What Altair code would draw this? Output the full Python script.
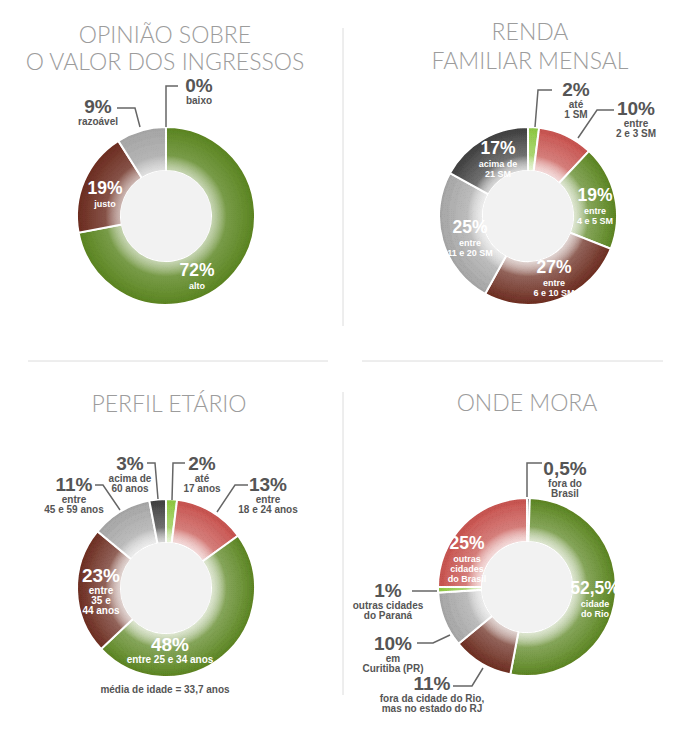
import altair as alt
import pandas as pd
import math

# ---------------- data ----------------
opiniao_cat = ["baixo", "alto", "justo", "razoável"]
opiniao_val = [0, 72, 19, 9]

renda_cat = ["até\n1 SM", "entre\n2 e 3 SM", "entre\n4 e 5 SM", "entre\n6 e 10 SM",
             "entre\n11 e 20 SM", "acima de\n21 SM"]
renda_val = [2, 10, 19, 27, 25, 17]

idade_cat = ["até\n17 anos", "entre\n18 e 24 anos", "entre 25 e 34 anos",
             "entre\n35 e\n44 anos", "entre\n45 e 59 anos", "acima de\n60 anos"]
idade_val = [2, 13, 48, 23, 11, 3]
idade_nota = "média de idade = 33,7 anos"

mora_cat = ["fora do\nBrasil", "cidade\ndo Rio", "fora da cidade do Rio,\nmas no estado do RJ",
            "em\nCuritiba (PR)", "outras cidades\ndo Paraná", "outras\ncidades\ndo Brasil"]
mora_val = [0.5, 52.5, 11, 10, 1, 25]

titulos = [["OPINIÃO SOBRE", "O VALOR DOS INGRESSOS"], ["RENDA", "FAMILIAR MENSAL"],
           ["PERFIL ETÁRIO"], ["ONDE MORA"]]

# ---------------- styles ----------------
GREEN, BROWN, GRAY = "#59841e", "#6a2a1d", "#a4a4a4"
DARK, LIME, RED = "#3c3c3c", "#8cc63f", "#c64f4b"
HOLE = "#f2f2f2"
TXT = "#555555"
TITLE_C = "#9c9c9c"
SANS = "Liberation Sans, Arial, sans-serif"

OFF = 8  # page margin
R_OUT, R_IN = 89, 45

charts = [
    dict(cat=opiniao_cat, val=opiniao_val, colors=[DARK, GREEN, BROWN, GRAY],
         center=(166, 216), title=titulos[0], title_y=[36, 63], title_x=165,
         pos=[(33, -130), (31, 55), (-61, -27), (-68, -109)],
         inside=[False, True, True, False], narrow=True,
         leaders=[[(0, -89), (0, -130), (12, -130)],
                  [(-49, -108), (-31, -108), (-26, -89)]]),
    dict(cat=renda_cat, val=renda_val, colors=[LIME, RED, GREEN, BROWN, GRAY, DARK],
         center=(528, 216), title=titulos[1], title_y=[33, 62], title_x=530,
         pos=[(48, -126), (108, -107), (67, -20), (26, 52), (-58, 12), (-30, -67)],
         inside=[False, False, True, True, True, True], narrow=True,
         leaders=[[(7, -89), (10, -126), (24, -126)],
                  [(86, -106), (69, -106), (50, -78)]]),
    dict(cat=idade_cat, val=idade_val, colors=[LIME, RED, GREEN, BROWN, GRAY, DARK],
         center=(166, 588), title=titulos[2], title_y=[405], title_x=169,
         pos=[(36, -124), (102, -103), (4, 57), (-65, -12), (-92, -103), (-36, -124)],
         inside=[False, False, True, True, False, False], narrow=False,
         leaders=[[(6, -88), (7, -125), (19, -125)],
                  [(82, -103), (69, -103), (51, -76)],
                  [(-71, -103), (-63, -103), (-46, -78)],
                  [(-19, -125), (-11, -125), (-8, -89)]]),
    dict(cat=mora_cat, val=mora_val, colors=[DARK, GREEN, BROWN, GRAY, LIME, RED],
         center=(527, 587), title=titulos[3], title_y=[404], title_x=527,
         pos=[(38, -118), (68, 2), (-95, 97), (-134, 57), (-139, 4), (-60, -43)],
         inside=[False, True, False, False, False, True], narrow=True,
         leaders=[[(0, -90), (0, -124), (15, -124)],
                  [(-115, 4), (-90, 4)],
                  [(-110, 56), (-94, 56), (-77, 48)],
                  [(-74, 99), (-55, 99), (-44, 81)]]),
]


def fmt(v):
    return f"{v:g}%".replace(".", ",")


layers = []
groups = {k: [] for k in ["out_pct", "out_sub", "in_pct_n", "in_sub_n", "in_pct", "in_sub", "title", "note"]}
leader_rows = []

gradient = alt.RadialGradient(
    gradient="radial",
    stops=[alt.GradientStop(offset=0.0, color="rgba(255,255,255,0.25)"),
           alt.GradientStop(offset=0.5, color="rgba(255,255,255,0.25)"),
           alt.GradientStop(offset=0.68, color="rgba(255,255,255,0.05)"),
           alt.GradientStop(offset=1.0, color="rgba(255,255,255,0)")],
    x1=0.5, y1=0.5, r1=0, x2=0.5, y2=0.5, r2=0.5)

for ci, ch in enumerate(charts):
    cx, cy = ch["center"]
    px, py = cx - OFF, cy - OFF
    df = pd.DataFrame({"cat": ch["cat"], "value": ch["val"], "color": ch["colors"],
                       "idx": list(range(len(ch["cat"])))})
    ring = alt.Chart(df).mark_arc(innerRadius=R_IN, outerRadius=R_OUT, stroke="white",
                                  strokeWidth=2).encode(
        theta=alt.Theta("value:Q", stack=True),
        order=alt.Order("idx:Q"),
        color=alt.Color("color:N", scale=None),
        x=alt.value(px), y=alt.value(py))
    glow = alt.Chart(df).mark_arc(innerRadius=R_IN, outerRadius=R_OUT, theta=0,
                                  theta2=2 * math.pi, fill=gradient).encode(
        x=alt.value(px), y=alt.value(py))
    hole = alt.Chart(df).mark_arc(innerRadius=0, outerRadius=R_IN, theta=0,
                                  theta2=2 * math.pi, fill=HOLE).encode(
        x=alt.value(px), y=alt.value(py))
    layers += [ring, glow, hole]

    for t, ty in zip(ch["title"], ch["title_y"]):
        groups["title"].append(dict(x=ch["title_x"] - OFF, y=ty - OFF, t=t))

    for cat, v, (dx, dy), ins in zip(ch["cat"], ch["val"], ch["pos"], ch["inside"]):
        x, y = cx + dx - OFF, cy + dy - OFF
        if ins:
            kp, ks = ("in_pct_n", "in_sub_n") if ch["narrow"] else ("in_pct", "in_sub")
        else:
            kp, ks = "out_pct", "out_sub"
        groups[kp].append(dict(x=x, y=y, t=fmt(v)))
        for li, line in enumerate(cat.split("\n")):
            groups[ks].append(dict(x=x, y=y + 14.5 + 10 * li, t=line))

    for li, pts in enumerate(ch["leaders"]):
        for pi, (dx, dy) in enumerate(pts):
            leader_rows.append(dict(x=cx + dx - OFF, y=cy + dy - OFF,
                                    id=f"{ci}-{li}", o=pi))

groups["note"].append(dict(x=165 - OFF, y=690 - OFF, t=idade_nota))

styles = {
    "out_pct": dict(font=SANS, fontWeight="bold", fontSize=19, color=TXT),
    "out_sub": dict(font=SANS, fontWeight="bold", fontSize=10, color=TXT),
    "in_pct_n": dict(font=SANS, fontWeight="bold", fontSize=17.5, color="white"),
    "in_sub_n": dict(font=SANS, fontWeight="bold", fontSize=9, color="white"),
    "in_pct": dict(font=SANS, fontWeight="bold", fontSize=19, color="white"),
    "in_sub": dict(font=SANS, fontWeight="bold", fontSize=10, color="white"),
    "title": dict(font="Lato", fontWeight=300, fontSize=23, color=TITLE_C),
    "note": dict(font=SANS, fontWeight="bold", fontSize=10, color=TXT),
}

leaders = alt.Chart(pd.DataFrame(leader_rows)).mark_line(
    color="#666666", strokeWidth=1.5).encode(
    x=alt.X("x:Q", scale=None, axis=None),
    y=alt.Y("y:Q", scale=None, axis=None),
    detail="id:N", order="o:Q")
layers.append(leaders)

for k, rows in groups.items():
    st = styles[k]
    layers.append(alt.Chart(pd.DataFrame(rows)).mark_text(
        align="center", baseline="middle", **st).encode(
        x=alt.X("x:Q", scale=None, axis=None),
        y=alt.Y("y:Q", scale=None, axis=None),
        text="t:N"))

# dividers
div = pd.DataFrame({"x": [343 - OFF, 343 - OFF, 28 - OFF, 362 - OFF],
                    "y": [28 - OFF, 392 - OFF, 361 - OFF, 361 - OFF],
                    "x2": [343 - OFF, 343 - OFF, 328 - OFF, 663 - OFF],
                    "y2": [326 - OFF, 695 - OFF, 361 - OFF, 361 - OFF]})
rules = alt.Chart(div).mark_rule(color="#dcdcdc", strokeWidth=1).encode(
    x=alt.X("x:Q", scale=None, axis=None), x2="x2:Q",
    y=alt.Y("y:Q", scale=None, axis=None), y2="y2:Q")
layers.insert(0, rules)

chart = alt.layer(*layers).properties(
    width=674, height=712, padding=0, background="white"
).configure_view(stroke=None)

chart.save("out.html", embed_options={"renderer": "svg", "actions": False})
